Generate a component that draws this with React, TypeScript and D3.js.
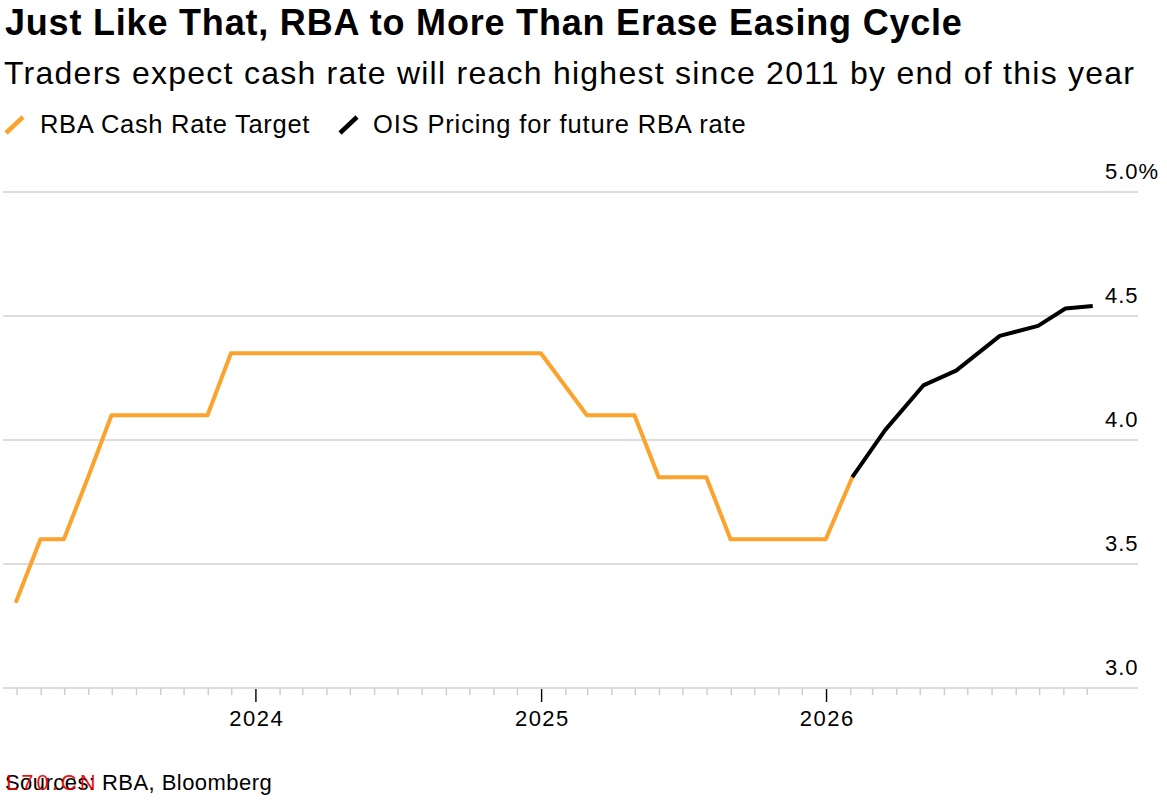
import React from "react";
import * as d3 from "d3";

const W = 1167;
const H = 804;

const title = "Just Like That, RBA to More Than Erase Easing Cycle";
const subtitle = "Traders expect cash rate will reach highest since 2011 by end of this year";
const legendLabels = ["RBA Cash Rate Target", "OIS Pricing for future RBA rate"];
const source = "Sources: RBA, Bloomberg";

const cashDates = [
  "2023-02-28", "2023-03-31", "2023-04-30", "2023-05-31", "2023-06-30",
  "2023-10-31", "2023-11-30", "2024-12-31", "2025-02-28", "2025-04-30",
  "2025-05-31", "2025-07-31", "2025-08-31", "2025-12-31", "2026-02-03",
];
const cashValues = [3.35, 3.6, 3.6, 3.85, 4.1, 4.1, 4.35, 4.35, 4.1, 4.1, 3.85, 3.85, 3.6, 3.6, 3.85];

const oisDates = [
  "2026-02-03", "2026-03-17", "2026-05-05", "2026-06-16",
  "2026-08-11", "2026-09-29", "2026-11-03", "2026-12-08",
];
const oisValues = [3.85, 4.04, 4.22, 4.28, 4.42, 4.46, 4.53, 4.54];

const yTicks = [3.0, 3.5, 4.0, 4.5, 5.0];
const yearTicks = ["2024-01-01", "2025-01-01", "2026-01-01"];

const parse = d3.utcParse("%Y-%m-%d");
const font = "'Liberation Sans', Arial, Helvetica, sans-serif";
const ORANGE = "#FCA32E";

export default function App() {
  const x = d3
    .scaleUtc()
    .domain([parse("2023-02-11")!, parse("2027-02-04")!])
    .range([3, 1138]);
  const y = d3.scaleLinear().domain([3, 5]).range([688, 192]);

  const cash = cashDates.map((d, i) => ({ date: parse(d)!, v: cashValues[i] }));
  const ois = oisDates.map((d, i) => ({ date: parse(d)!, v: oisValues[i] }));
  const line = d3
    .line<{ date: Date; v: number }>()
    .x((d) => x(d.date))
    .y((d) => y(d.v));

  const monthTicks = d3.utcMonth
    .range(parse("2023-03-01")!, parse("2027-01-01")!)
    .filter((d) => d.getUTCMonth() !== 0);
  const years = yearTicks.map((d) => parse(d)!);

  return (
    <svg
      width={W}
      height={H}
      style={{ position: "absolute", left: 0, top: 0, background: "#fff" }}
      fontFamily={font}
    >
      <rect width={W} height={H} fill="#fff" />
      <text x={5} y={35} fontSize={36} fontWeight="bold" letterSpacing={0.8} fill="#000">
        {title}
      </text>
      <text x={4} y={83.5} fontSize={32} fill="#000" letterSpacing={1.25}>
        {subtitle}
      </text>
      <g>
        <line x1={6} y1={133} x2={23} y2={117} stroke={ORANGE} strokeWidth={4.5} />
        <text x={40} y={133.3} fontSize={25.5} fill="#000" letterSpacing={0.7}>
          {legendLabels[0]}
        </text>
        <line x1={340} y1={133} x2={357} y2={117} stroke="#000" strokeWidth={4.5} />
        <text x={373} y={133.3} fontSize={25.5} fill="#000" letterSpacing={0.85}>
          {legendLabels[1]}
        </text>
      </g>
      {yTicks.map((t) => (
        <g key={t}>
          <line x1={3} x2={1138} y1={y(t)} y2={y(t)} stroke="#d2d2d2" strokeWidth={1.6} />
          <text x={1105} y={y(t) - 13} fontSize={22} fill="#000" letterSpacing={1}>
            {t.toFixed(1) + (t === 5 ? "%" : "")}
          </text>
        </g>
      ))}
      {monthTicks.map((d) => (
        <line
          key={+d}
          x1={x(d)}
          x2={x(d)}
          y1={688}
          y2={695}
          stroke="#cccccc"
          strokeWidth={1.4}
        />
      ))}
      {years.map((d) => (
        <g key={+d}>
          <line x1={x(d)} x2={x(d)} y1={689} y2={702} stroke="#000" strokeWidth={1.4} />
          <text x={x(d) + 0.75} y={725.7} fontSize={22} textAnchor="middle" fill="#000" letterSpacing={1.5}>
            {d.getUTCFullYear()}
          </text>
        </g>
      ))}
      <path d={line(cash) || ""} fill="none" stroke={ORANGE} strokeWidth={4} strokeLinejoin="round" strokeLinecap="round" />
      <path d={line(ois) || ""} fill="none" stroke="#000" strokeWidth={4} strokeLinejoin="round" strokeLinecap="butt" />
      <text x={5} y={790} fontSize={22} fill="#000" letterSpacing={0.45}>
        {source}
      </text>
      <text x={6} y={790} fontSize={22} fill="#e00000" opacity={0.9} letterSpacing={3}>
        L70.CN
      </text>
    </svg>
  );
}
